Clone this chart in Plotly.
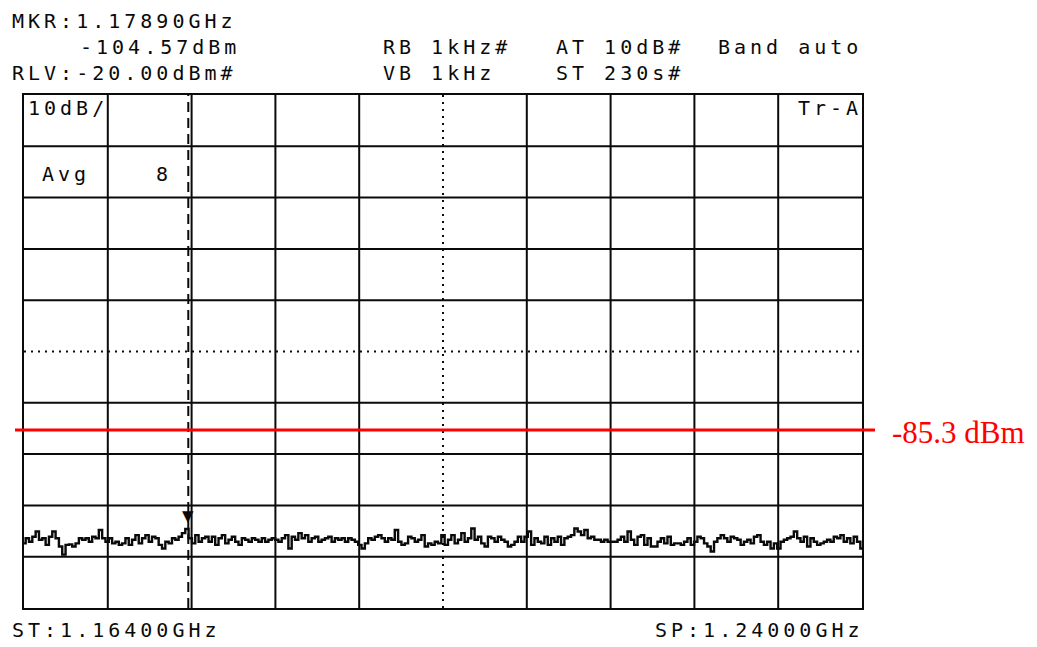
import numpy as np
import plotly.graph_objects as go

# ---------------- data ----------------
start_ghz = 1.164
stop_ghz = 1.240
ref_level_dbm = -20.0
db_per_div = 10
n_div = 10
marker_ghz = 1.1789
marker_dbm = -104.57
threshold_dbm = -85.3

header_left = ["MKR:1.17890GHz", "-104.57dBm", "RLV:-20.00dBm#"]
header_mid = ["RB 1kHz#", "VB 1kHz"]
header_mid2 = ["AT 10dB#", "ST 230s#"]
header_right = "Band auto"
footer_left = "ST:1.16400GHz"
footer_right = "SP:1.24000GHz"

trace_dbm = [
    -107.4, -106.4, -107.1, -106.1, -105.1, -106.7, -106.4, -107.7, -106.1, -105.1,
    -106.4, -108.0, -109.6, -107.7, -107.6, -108.0, -107.4, -106.4, -106.7, -106.4,
    -107.1, -106.1, -106.4, -104.8, -106.4, -107.1, -106.4, -107.4, -107.1, -107.7,
    -107.4, -106.4, -107.7, -106.7, -105.8, -107.4, -106.4, -105.8, -107.1, -106.1,
    -106.4, -107.7, -108.4, -107.1, -107.4, -106.4, -106.7, -106.1, -105.4,
    -104.6,
    -106.4, -107.4, -105.8, -107.1, -106.4, -106.1, -107.1, -106.1, -107.7, -106.4,
    -105.8, -107.4, -106.7, -106.1, -107.1, -107.7, -106.4, -106.7, -107.1, -106.4,
    -106.7, -107.1, -106.4, -107.1, -106.7, -106.4, -106.7, -107.1, -106.4, -105.8,
    -108.4, -106.1, -106.7, -105.4, -106.4, -105.8, -107.1, -106.4, -106.1, -107.1,
    -106.7, -106.4, -106.1, -107.1, -106.4, -106.7, -106.4, -107.1, -106.4, -106.7,
    -107.1, -107.7, -108.4, -107.4, -106.4, -106.7, -106.1, -105.8, -106.4, -107.1,
    -106.4, -106.7, -104.8, -107.1, -107.7, -107.4, -106.1, -106.4, -107.1, -106.7,
    -105.8, -108.0, -107.4, -107.7, -107.1, -107.4, -105.8, -107.7, -106.7, -105.8,
    -107.4, -106.7, -105.4, -107.1, -106.4, -104.5, -106.7, -106.1, -107.4, -108.0,
    -106.1, -106.4, -107.1, -106.1, -106.7, -107.1, -108.0, -107.7, -107.1, -106.1,
    -107.1,
    -106.1, -105.1, -107.7, -106.4, -107.1, -107.4, -106.1, -107.7, -106.4, -107.1,
    -106.1, -107.7, -106.4, -106.1, -105.8, -104.5, -105.1, -105.8, -104.8, -106.4,
    -106.1, -106.7, -106.7, -107.1, -106.7, -107.1, -107.1, -107.1, -106.7, -106.1,
    -107.1, -105.1, -106.7, -107.7, -106.1, -105.8, -107.7, -106.4, -108.0, -108.0,
    -107.1, -106.4, -107.4, -106.1, -107.7, -107.4, -107.4, -107.7, -107.1, -106.4,
    -107.7,
    -107.1, -106.1, -106.4, -107.4, -108.0, -109.0, -107.1, -106.4, -105.8, -106.4,
    -107.1, -106.1, -106.4, -106.7, -107.7, -107.1, -106.7, -107.4, -106.1, -105.8,
    -107.1, -107.7, -107.1, -108.4, -107.4, -108.4, -107.1, -106.7, -106.4, -106.1,
    -105.1, -106.4, -107.1, -106.1, -108.0, -106.4, -107.1, -107.7, -107.4, -107.1,
    -106.7, -107.1, -106.1, -106.4, -105.8, -107.1, -106.4, -107.4, -106.1, -107.1,
    -108.4,
]

# sweep points spread evenly over the span
freq_ghz = np.linspace(start_ghz, stop_ghz, len(trace_dbm))
bottom_dbm = ref_level_dbm - db_per_div * n_div

# ---------------- layout geometry ----------------
# The page body has an 8px margin, so the figure is drawn 8px smaller and
# all reference pixel positions are shifted by OFF.
OFF = 8
W, H = 1037 - OFF, 647 - OFF
PLOT_X0, PLOT_X1, PLOT_Y0, PLOT_Y1 = 24, 862, 95, 608  # reference pixels
L, T = PLOT_X0 - OFF, PLOT_Y0 - OFF
PW, PH = PLOT_X1 - PLOT_X0, PLOT_Y1 - PLOT_Y0
R, B = W - L - PW, H - T - PH


def px(x):
    return (x - PLOT_X0) / PW


def py(y):
    return (PLOT_Y1 - y) / PH


MONO = "DejaVu Sans Mono"
INK = "#0a0a0a"


def mono(s):
    return f'<span style="letter-spacing:4px">{s}</span>'


fig = go.Figure()

fig.add_trace(go.Scatter(
    x=freq_ghz, y=trace_dbm, mode="lines",
    line=dict(color=INK, width=2.4, shape="hvh"),
    hoverinfo="skip", showlegend=False,
))

shapes = []
span = stop_ghz - start_ghz
for i in range(1, n_div):
    xv = start_ghz + i * span / n_div
    yv = ref_level_dbm - i * db_per_div
    d = "2px,5px" if i == n_div // 2 else "solid"
    shapes.append(dict(type="line", xref="x", yref="y", x0=xv, x1=xv,
                       y0=bottom_dbm, y1=ref_level_dbm, layer="below",
                       line=dict(color=INK, width=2, dash=d)))
    shapes.append(dict(type="line", xref="x", yref="y", x0=start_ghz, x1=stop_ghz,
                       y0=yv, y1=yv, layer="below",
                       line=dict(color=INK, width=2, dash=d)))

# marker dashed line
shapes.append(dict(type="line", xref="x", yref="y", x0=marker_ghz, x1=marker_ghz,
                   y0=bottom_dbm, y1=ref_level_dbm, layer="below",
                   line=dict(color=INK, width=2, dash="10px,6px")))
# threshold red line
shapes.append(dict(type="line", xref="paper", yref="y", x0=px(15), x1=px(875),
                   y0=threshold_dbm, y1=threshold_dbm, layer="above",
                   line=dict(color="#ff0000", width=3)))

ann = []


def text(s, x, y, anchor="left", size=20, color=INK, family=MONO, spaced=True):
    ann.append(dict(text=mono(s) if spaced else s, x=px(x), y=py(y),
                    xref="paper", yref="paper", xanchor=anchor, yanchor="middle",
                    showarrow=False, font=dict(family=family, size=size, color=color)))


text(header_left[0], 10, 21)
text(header_left[1], 242, 47, anchor="right")
text(header_left[2], 10, 73)
text(header_mid[0], 381, 47)
text(header_mid[1], 381, 73)
text(header_mid2[0], 554, 47)
text(header_mid2[1], 554, 73)
text(header_right, 716, 47)
text("10dB/", 26, 108)
text("Avg", 40, 174)
text("8", 174, 174, anchor="right")
text("Tr-A", 864, 108, anchor="right")
text(footer_left, 10, 630)
text(footer_right, 866, 630, anchor="right")
text(f"{threshold_dbm} dBm", 890, 432, color="#ff0000", family="Liberation Serif",
     size=31, spaced=False)

# marker triangle (tip on the marker reading)
ann.append(dict(text="▼", x=marker_ghz, y=marker_dbm, xref="x", yref="y",
                xanchor="center", yanchor="bottom", showarrow=False, yshift=2,
                font=dict(family="DejaVu Sans", size=15, color=INK)))

fig.update_layout(
    width=W, height=H,
    margin=dict(l=L, r=R, t=T, b=B),
    paper_bgcolor="white", plot_bgcolor="white",
    shapes=shapes, annotations=ann, showlegend=False,
    xaxis=dict(range=[start_ghz, stop_ghz], showgrid=False, zeroline=False,
               showline=True, mirror=True, linecolor=INK, linewidth=2,
               showticklabels=False, ticks=""),
    yaxis=dict(range=[bottom_dbm, ref_level_dbm], showgrid=False, zeroline=False,
               showline=True, mirror=True, linecolor=INK, linewidth=2,
               showticklabels=False, ticks=""),
)

fig.write_html("out.html")
